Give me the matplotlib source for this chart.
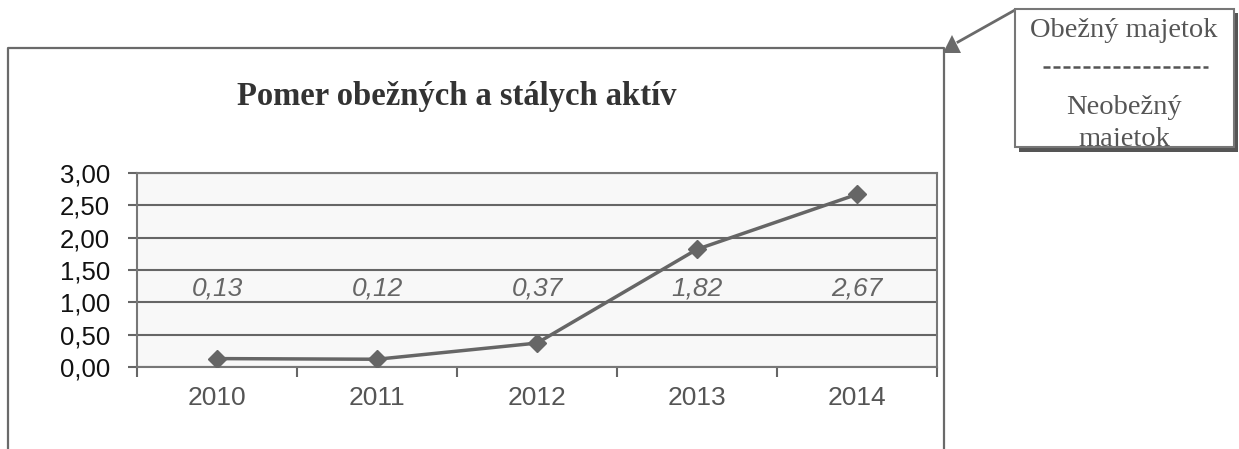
import numpy as np
import matplotlib.pyplot as plt
from matplotlib.patches import Rectangle

# Data
years = ['2010', '2011', '2012', '2013', '2014']
ratio = [0.13, 0.12, 0.37, 1.82, 2.67]
ratio_labels = ['0,13', '0,12', '0,37', '1,82', '2,67']
y_ticks = [0.0, 0.5, 1.0, 1.5, 2.0, 2.5, 3.0]
y_tick_labels = ['0,00', '0,50', '1,00', '1,50', '2,00', '2,50', '3,00']

W, H = 1239, 449
fig = plt.figure(figsize=(W / 100, H / 100), dpi=100)

# overlay in pixel coords for frame, title and callout
ov = fig.add_axes([0, 0, 1, 1])
ov.set_xlim(0, W)
ov.set_ylim(H, 0)
ov.axis('off')

frame_c = '#6a6a6a'
ov.plot([8, 8, 944, 944], [H, 48, 48, H], color=frame_c, lw=1.6)

ov.text(457, 105, 'Pomer obežných a stálych aktív', family='Liberation Serif',
        fontweight='bold', fontsize=23.5, color='#333333', ha='center', va='baseline')

# callout box with shadow (border drawn over the text, like the original)
ov.add_patch(Rectangle((1019, 13), 219, 139, facecolor='#555555', edgecolor='none', zorder=2))
ov.add_patch(Rectangle((1015, 9), 219, 138, facecolor='white', edgecolor='none', zorder=3))
ov.add_patch(Rectangle((1015, 9), 219, 138, facecolor='none', edgecolor='#777777', lw=1.5, zorder=5))
serif = dict(family='Liberation Serif', color='#555555', ha='center', va='baseline', zorder=4)
ov.text(1124, 37, 'Obežný majetok', fontsize=20.5, **serif)
ov.plot([1043, 1208], [67, 67], color='#555555', lw=1.8, dashes=(2.8, 1.2), zorder=4)
ov.text(1124, 114, 'Neobežný', fontsize=20.5, **serif)
ov.text(1124, 146, 'majetok', fontsize=20.5, **serif)

# pointer arrow
ov.plot([1015, 958], [10, 42], color=frame_c, lw=2)
ov.plot([952], [44], marker='^', markersize=13, color=frame_c, markeredgewidth=0)

# main chart
ax = fig.add_axes([137 / W, (H - 367) / H, 800 / W, 194 / H])
ax.set_facecolor('#f8f8f8')
x = np.arange(len(years))
ax.plot(x, ratio, color='#666666', lw=2.5, marker='D', markersize=9, zorder=3)
for xi, lab in zip(x, ratio_labels):
    ax.text(xi, 1.22, lab, fontsize=19, style='italic', color='#666666',
            ha='center', va='center', family='Liberation Sans')

ax.set_xlim(-0.5, len(years) - 0.5)
ax.set_ylim(0, 3)
ax.set_yticks(y_ticks)
ax.set_yticklabels(y_tick_labels, fontsize=18.5, family='Liberation Sans', color='#111111')
ax.set_xticks(x)
ax.set_xticklabels(years, fontsize=19, family='Liberation Sans', color='#555555')
ax.set_xticks(np.arange(-0.5, len(years)), minor=True)
ax.tick_params(axis='x', which='major', length=0, pad=14)
ax.tick_params(axis='x', which='minor', length=7, width=1.5, color='#666666', direction='out')
ax.tick_params(axis='y', length=6.5, width=1.5, color='#666666', pad=13)
ax.yaxis.grid(True, color='#666666', lw=1.5)
ax.set_axisbelow(True)
for s in ax.spines.values():
    s.set_color('#777777')
    s.set_linewidth(1.5)

fig.savefig('out.png', dpi=100)
